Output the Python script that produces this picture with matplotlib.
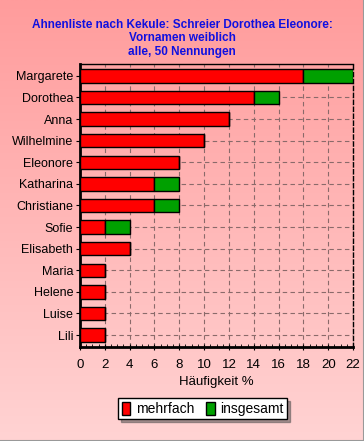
import numpy as np
import matplotlib
matplotlib.use("Agg")
import matplotlib.pyplot as plt
from matplotlib.patches import Patch
from matplotlib.colors import LinearSegmentedColormap

# Data (percent)
names = ["Margarete", "Dorothea", "Anna", "Wilhelmine", "Eleonore", "Katharina",
         "Christiane", "Sofie", "Elisabeth", "Maria", "Helene", "Luise", "Lili"]
mehrfach = [18, 14, 12, 10, 8, 6, 6, 2, 4, 2, 2, 2, 2]
insgesamt = [22, 16, 12, 10, 8, 8, 8, 4, 4, 2, 2, 2, 2]
xticks = [0, 2, 4, 6, 8, 10, 12, 14, 16, 18, 20, 22]

plt.rcParams['font.family'] = ['Liberation Sans', 'DejaVu Sans']

fig = plt.figure(figsize=(3.64, 4.41), dpi=100)

# background gradient
bg = fig.add_axes([0, 0, 1, 1], zorder=-10)
cmap = LinearSegmentedColormap.from_list("bg", ["#ffd3d3", "#ff9c9c"])
grad = np.linspace(0, 1, 256).reshape(-1, 1)
bg.imshow(grad, aspect="auto", cmap=cmap, origin="lower", extent=[0, 1, 0, 1])
bg.plot([0, 1], [0.001, 0.001], color="#999999", lw=1.5)
bg.plot([0.999, 0.999], [0, 1], color="#999999", lw=1.5)
bg.set_xlim(0, 1)
bg.set_ylim(0, 1)
bg.axis("off")

ax = fig.add_axes([0.2198, 0.2132, 0.75, 0.6417])
ax.patch.set_alpha(0)

y = np.arange(len(names))
extra = [t - m for t, m in zip(insgesamt, mehrfach)]
ax.barh(y, mehrfach, height=0.62, color="#ff0000", edgecolor="black", lw=1, zorder=3)
ax.barh(y, extra, left=mehrfach, height=0.62, color="#00a000", edgecolor="black", lw=1, zorder=3)

ax.set_xlim(0, 22)
ax.set_ylim(len(names) - 0.45, -0.55)
ax.set_yticks(y)
ax.set_yticklabels(names, fontsize=9)
ax.set_xticks(xticks)
ax.set_xticklabels([str(v) for v in xticks], fontsize=9.5)
ax.set_xticks(np.arange(0, 22.01, 0.5), minor=True)
ax.tick_params(axis="x", which="minor", length=2, direction="in", width=0.6)
ax.tick_params(axis="x", which="major", length=4, direction="inout", width=0.8, pad=7)
ax.tick_params(axis="y", length=3, width=0.8, pad=2)
ax.grid(True, linestyle=(0, (4, 3)), color="#8a6a6a", lw=0.8, zorder=1)
ax.set_axisbelow(True)

ax.spines["left"].set_linewidth(2)
ax.spines["bottom"].set_linewidth(2)
ax.spines["top"].set_linewidth(1)
ax.spines["right"].set_linewidth(1)
ax.spines["right"].set_linestyle((0, (3, 2)))

ax.set_xlabel("Häufigkeit %", fontsize=9.5, labelpad=3)

fig.text(0.5, 0.913, "Ahnenliste nach Kekule: Schreier Dorothea Eleonore:\nVornamen weiblich\nalle, 50 Nennungen",
         ha="center", va="center", color="#1010e0", fontsize=8.5, fontweight="bold",
         linespacing=1.15)

handles = [Patch(facecolor="#ff0000", edgecolor="black"),
           Patch(facecolor="#00a000", edgecolor="black")]
leg = fig.legend(handles, ["mehrfach", "insgesamt"], loc="center", bbox_to_anchor=(0.557, 0.073),
                 ncol=2, fontsize=10, frameon=True, fancybox=False, shadow=True,
                 handlelength=0.6, handleheight=1.1, handletextpad=0.4, columnspacing=0.9,
                 borderpad=0.25, borderaxespad=0)
leg.get_frame().set_edgecolor("black")
leg.get_frame().set_facecolor("white")
leg.get_frame().set_linewidth(1)

fig.savefig("out.png", dpi=100)
